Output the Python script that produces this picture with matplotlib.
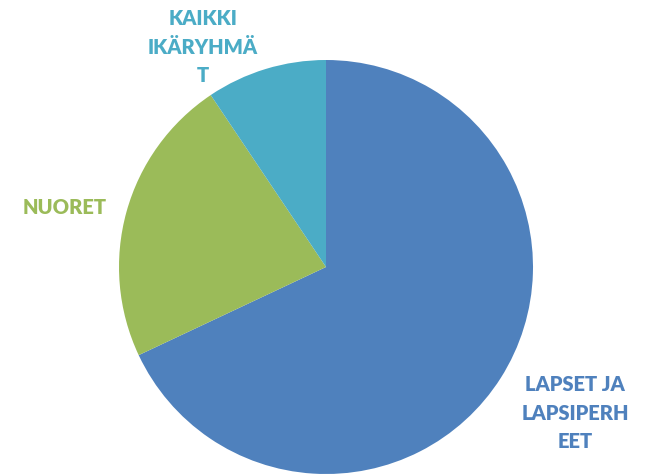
import matplotlib.pyplot as plt

# slice data (clockwise from 12 o'clock)
labels = ["LAPSET JA\nLAPSIPERH\nEET", "NUORET", "KAIKKI\nIKÄRYHMÄ\nT"]
values = [68, 22.6, 9.4]
colors = ["#4F81BD", "#9BBB59", "#4BACC6"]

# label anchor positions in pixels (x, y from top)
label_pos = [(575, 413), (65, 207), (203, 47)]

fig = plt.figure(figsize=(6.47, 4.75), dpi=100)
ax = fig.add_axes([0, 0, 1, 1])

ax.pie(values, colors=colors, startangle=90, counterclock=False,
       center=(326, 475 - 267), radius=207,
       wedgeprops=dict(linewidth=0))

# pie resets the limits, so set them afterwards
ax.set_xlim(0, 647)
ax.set_ylim(0, 475)
ax.set_aspect("equal")
ax.axis("off")

for lab, (x, y), c in zip(labels, label_pos, colors):
    ax.text(x, 475 - y, lab, color=c, ha="center", va="center",
            fontsize=14.5, fontweight="heavy", family="Lato",
            linespacing=1.6)

fig.savefig("out.png", dpi=100)
